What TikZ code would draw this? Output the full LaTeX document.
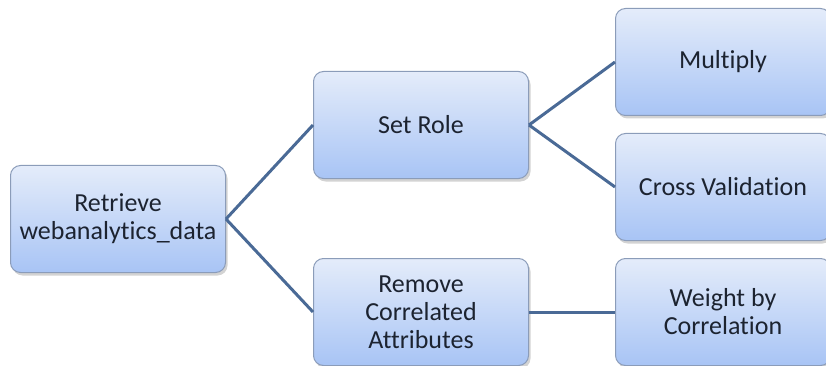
\documentclass[tikz,border=0pt]{standalone}
\usepackage{fontspec}
\setmainfont{Carlito}[Ligatures=NoCommon]
\usepackage{xcolor}
\usetikzlibrary{shadows}
\definecolor{boxtop}{HTML}{E4ECFA}
\definecolor{boxbot}{HTML}{A8C4F5}
\definecolor{boxrim}{HTML}{8B9CB9}
\definecolor{wire}{HTML}{4A6A96}
\definecolor{ink}{HTML}{1C2330}

\begin{document}
\begin{tikzpicture}[x=1pt,y=-1pt,
  task/.style={draw=boxrim,line width=1pt,rounded corners=10pt,
    top color=boxtop,bottom color=boxbot,
    minimum width=215pt,minimum height=107pt,inner sep=0pt,align=center,
    text=ink,font=\fontsize{26}{28}\selectfont,
    drop shadow={shadow xshift=2pt,shadow yshift=-3pt,opacity=0.35}},
  link/.style={wire,line width=3pt}]
\useasboundingbox (0,0) rectangle (826,366);
\node[task] (retrieve) at (118,219) {Retrieve\\webanalytics\_data};
\node[task] (setrole) at (421,125) {Set Role};
\node[task] (removecorr) at (421,312) {Remove\\Correlated\\Attributes};
\node[task] (multiply) at (723,62) {Multiply};
\node[task] (crossval) at (723,187) {Cross Validation};
\node[task] (weightcorr) at (723,312) {Weight by\\Correlation};
\draw[link] (retrieve.east) -- (setrole.west);
\draw[link] (retrieve.east) -- (removecorr.west);
\draw[link] (setrole.east) -- (multiply.west);
\draw[link] (setrole.east) -- (crossval.west);
\draw[link] (removecorr.east) -- (weightcorr.west);
\end{tikzpicture}
\end{document}
